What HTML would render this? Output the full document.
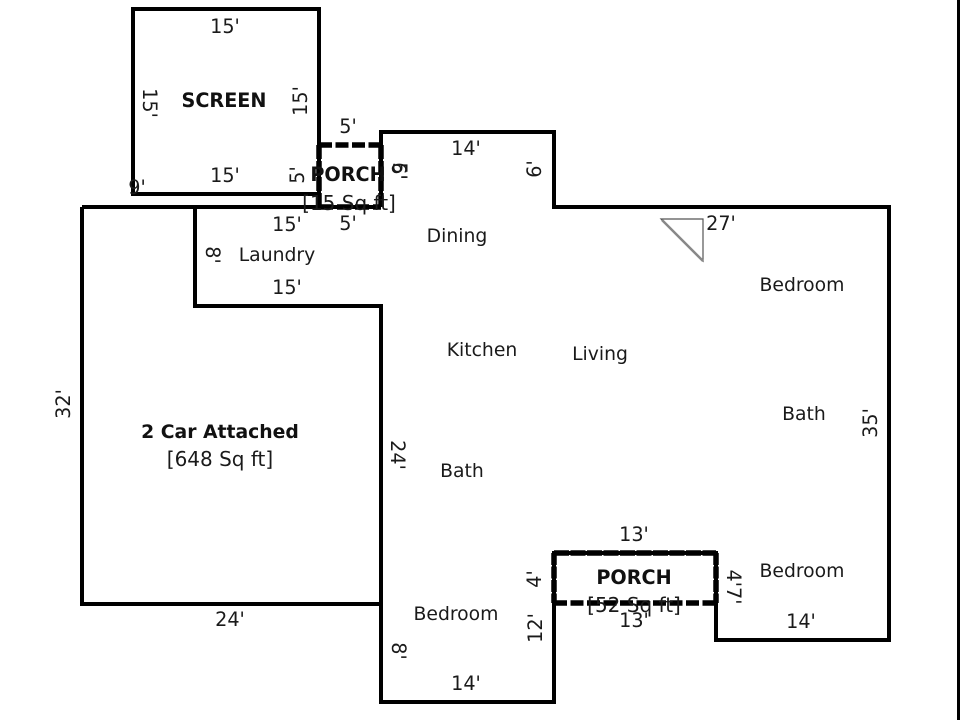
<!DOCTYPE html>
<html><head><meta charset="utf-8"><style>
html,body{margin:0;padding:0;background:#fff;width:960px;height:720px;overflow:hidden}
svg{display:block}
text{font-family:"DejaVu Sans","Liberation Sans",sans-serif;font-size:18.8px;fill:#1a1a1a;text-anchor:middle}
.b{font-weight:bold;font-size:19.2px;fill:#111}
.c{font-weight:bold;font-size:18.8px;fill:#111}
.s{font-size:20px}
.n{font-size:19.2px}
</style></head><body>
<svg width="960" height="720" viewBox="0 0 960 720" xmlns="http://www.w3.org/2000/svg">
<rect x="0" y="0" width="960" height="720" fill="#fff"/>
<rect x="957" y="0" width="3" height="720" fill="#000"/>
<g fill="none" stroke="#000" stroke-width="4">
<path d="M133 194V9H319V194Z"/>
<path d="M82 207H381M381 207V132H554V207H889V640H716V553H554V702H381V306H195V207M82 207V604H381"/>
</g>
<g fill="none" stroke="#000" stroke-width="5.5">
<path d="M319 145H381" stroke-dasharray="13 3.5"/>
<path d="M319 145V207M381 145V207" stroke-dasharray="14 2"/>
<path d="M319 207H381" stroke-dasharray="14 4"/>
<path d="M554 553H716" stroke-dasharray="15 1.5"/>
<path d="M554 553V603M716 553V603" stroke-dasharray="12 1.5"/>
<path d="M554 603H716" stroke-dasharray="13 3.5"/>
</g>
<path d="M661 219H703V261Z" fill="none" stroke="#555" stroke-width="1.2"/>
<path d="M662 220L703 261" stroke="#888" stroke-width="2.5"/>
<text class="n" x="225" y="33">15'</text>
<text class="n" x="225" y="182">15'</text>
<text x="224" y="107" class="b">SCREEN</text>
<text class="n" transform="translate(143,103) rotate(90)">15'</text>
<text class="n" transform="translate(307,101) rotate(-90)">15'</text>
<text class="n" x="348" y="133">5'</text>
<text x="348" y="181" class="b">PORCH</text>
<text class="s" x="349" y="210">[15 Sq ft]</text>
<text class="n" x="348" y="230">5'</text>
<text class="n" x="287" y="231">15'</text>
<text class="n" transform="translate(304,175) rotate(-90)">5'</text>
<text class="n" transform="translate(392,171) rotate(90)">6'</text>
<text class="n" transform="translate(393,171) rotate(90)">5'</text>
<text class="n" x="137" y="194">9'</text>
<text class="n" x="466" y="155">14'</text>
<text class="n" transform="translate(541,169) rotate(-90)">6'</text>
<text class="n" x="721" y="230">27'</text>
<text x="457" y="242">Dining</text>
<text x="277" y="261">Laundry</text>
<text class="n" transform="translate(206,255) rotate(90)">8'</text>
<text class="n" x="287" y="294">15'</text>
<text x="802" y="291">Bedroom</text>
<text x="482" y="356">Kitchen</text>
<text x="600" y="360">Living</text>
<text x="804" y="420">Bath</text>
<text class="n" transform="translate(70,404) rotate(-90)">32'</text>
<text x="220" y="438" class="c">2 Car Attached</text>
<text class="s" x="220" y="466">[648 Sq ft]</text>
<text class="n" transform="translate(391,455) rotate(90)">24'</text>
<text x="462" y="477">Bath</text>
<text class="n" transform="translate(877,423) rotate(-90)">35'</text>
<text class="n" x="634" y="541">13'</text>
<text x="634" y="584" class="b">PORCH</text>
<text class="s" x="634" y="612">[52 Sq ft]</text>
<text class="n" x="634" y="627">13'</text>
<text class="n" transform="translate(541,579) rotate(-90)">4'</text>
<text class="n" transform="translate(727,587) rotate(90)">4'7'</text>
<text x="802" y="577">Bedroom</text>
<text class="n" x="801" y="628">14'</text>
<text x="456" y="620">Bedroom</text>
<text class="n" transform="translate(542,628) rotate(-90)">12'</text>
<text class="n" x="230" y="626">24'</text>
<text class="n" transform="translate(392,651) rotate(90)">8'</text>
<text class="n" x="466" y="690">14'</text>
</svg>
</body></html>
